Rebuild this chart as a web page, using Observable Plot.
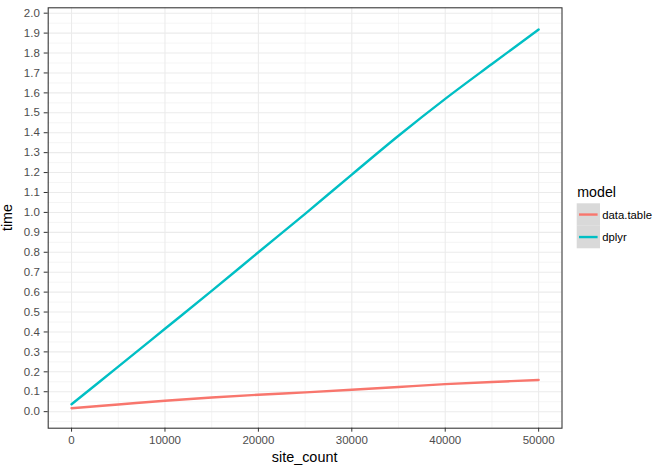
<!DOCTYPE html>
<html>
<head>
<meta charset="utf-8">
<script src="https://cdn.jsdelivr.net/npm/d3@7"></script>
<script src="https://cdn.jsdelivr.net/npm/@observablehq/plot@0.6"></script>
<style>
  html, body { margin: 0; padding: 0; background: #fff; }
  #chart { position: relative; width: 660px; height: 471px; }
</style>
</head>
<body>
<div id="chart"></div>
<script>
// ---- data ----
const siteCount = [0, 5000, 10000, 15000, 20000, 25000, 30000, 35000, 40000, 45000, 50000];
const dataTableTime = [0.017, 0.036, 0.055, 0.071, 0.085, 0.097, 0.110, 0.124, 0.138, 0.149, 0.159];
const dplyrTime = [0.037, 0.226, 0.416, 0.606, 0.800, 0.993, 1.190, 1.385, 1.570, 1.745, 1.918];
const models = ["data.table", "dplyr"];
const modelColors = ["#F8766D", "#00BFC4"];
const xTicks = [0, 10000, 20000, 30000, 40000, 50000];
const xMinor = [5000, 15000, 25000, 35000, 45000];
const yTicks = d3.range(0, 21).map(i => i / 10);
const yMinor = d3.range(0, 21).map(i => i / 10 - 0.05);

const rows = [];
siteCount.forEach((s, i) => rows.push({site_count: s, time: dataTableTime[i], model: models[0]}));
siteCount.forEach((s, i) => rows.push({site_count: s, time: dplyrTime[i], model: models[1]}));

const font = "'Liberation Sans', Arial, Helvetica, sans-serif";

const plot = Plot.plot({
  width: 660,
  height: 471,
  marginLeft: 47.7,
  marginRight: 98.5,
  marginTop: 7.3,
  marginBottom: 43.3,
  style: {fontFamily: font, color: "#4d4d4d", background: "#fff", overflow: "visible"},
  x: {domain: [-2500, 52500]},
  y: {domain: [-0.083, 2.027]},
  color: {domain: models, range: modelColors},
  marks: [
    Plot.gridX(xMinor, {stroke: "#ebebeb", strokeOpacity: 1, strokeWidth: 0.55}),
    Plot.gridY(yMinor, {stroke: "#ebebeb", strokeOpacity: 1, strokeWidth: 0.55}),
    Plot.gridX(xTicks, {stroke: "#ebebeb", strokeOpacity: 1, strokeWidth: 1.07}),
    Plot.gridY(yTicks, {stroke: "#ebebeb", strokeOpacity: 1, strokeWidth: 1.07}),
    Plot.line(rows, {x: "site_count", y: "time", stroke: "model", z: "model", curve: "catmull-rom", strokeWidth: 2.4}),
    Plot.frame({stroke: "#333333", strokeWidth: 1.07}),
    Plot.axisX(xTicks, {tickSize: 4, tickPadding: 3.2, stroke: "#333333", fill: "#4d4d4d", fontSize: 11.5, label: null, tickFormat: d => String(d)}),
    Plot.axisY(yTicks, {tickSize: 4, tickPadding: 4.4, stroke: "#333333", fill: "#4d4d4d", fontSize: 11.5, label: null, tickFormat: d3.format(".1f")})
  ]
});

document.getElementById("chart").appendChild(plot);

const svg = d3.select(plot);
// axis titles
svg.append("text")
  .attr("x", 304.6).attr("y", 461.5)
  .attr("text-anchor", "middle")
  .attr("font-family", font).attr("font-size", 14.4).attr("fill", "#000")
  .text("site_count");
svg.append("text")
  .attr("transform", "translate(12.4,217.5) rotate(-90)")
  .attr("text-anchor", "middle")
  .attr("font-family", font).attr("font-size", 14.4).attr("fill", "#000")
  .text("time");

// legend
const color = plot.scale("color");
const lg = svg.append("g").attr("text-anchor", "start");
lg.append("text")
  .attr("x", 577.3).attr("y", 197.3)
  .attr("text-anchor", "start")
  .attr("font-family", font).attr("font-size", 14.2).attr("fill", "#000")
  .text("model");
const keyH = 22.5;
models.forEach((m, i) => {
  const y0 = 203.3 + i * keyH;
  lg.append("rect").attr("x", 576.7).attr("y", y0).attr("width", 23.3).attr("height", keyH).attr("fill", "#d9d9d9");
  lg.append("line").attr("x1", 579).attr("x2", 597.6).attr("y1", y0 + keyH / 2).attr("y2", y0 + keyH / 2)
    .attr("stroke", color.apply(m)).attr("stroke-width", 2.4);
  lg.append("text").attr("x", 602.3).attr("y", y0 + keyH / 2 + 4.1)
    .attr("text-anchor", "start")
    .attr("font-family", font).attr("font-size", 11.3).attr("fill", "#000")
    .text(m);
});
</script>
</body>
</html>
